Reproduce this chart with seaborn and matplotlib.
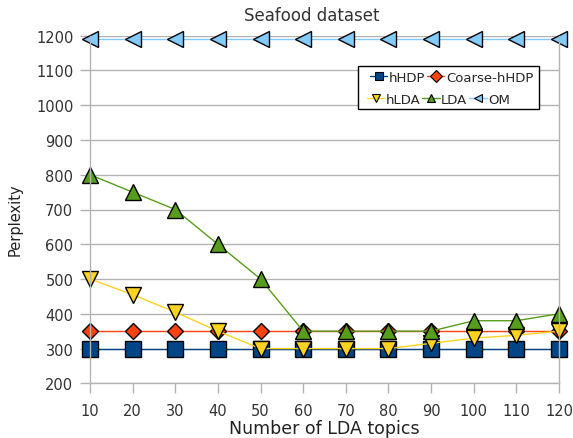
import matplotlib
matplotlib.use("Agg")
import matplotlib.pyplot as plt
import seaborn as sns
from matplotlib.lines import Line2D
from matplotlib.patches import Rectangle

topics = [10, 20, 30, 40, 50, 60, 70, 80, 90, 100, 110, 120]
hhdp = [300, 300, 300, 300, 300, 300, 300, 300, 300, 300, 300, 300]
coarse_hhdp = [350, 350, 350, 350, 350, 350, 350, 350, 350, 350, 350, 350]
hlda = [500, 455, 405, 350, 300, 300, 300, 300, 315, 330, 338, 350]
lda = [800, 750, 700, 600, 500, 350, 350, 350, 350, 380, 380, 400]
om = [1190, 1190, 1190, 1190, 1190, 1190, 1190, 1190, 1190, 1190, 1190, 1190]
series_names = ["hHDP", "Coarse-hHDP", "hLDA", "LDA", "OM"]

sns.set_theme(style="white")
plt.rcParams['font.family'] = ['DejaVu Sans']

fig = plt.figure(figsize=(5.73, 4.39), dpi=100)
L, R, T, B = 90, 559, 36.7, 384.3
W, H = R - L, B - T
ax = fig.add_axes([L/573, 1-B/439, W/573, H/439])

def ax_x(px):
    return (px - L) / W

def ax_y(py):
    return (B - py) / H

specs = [
    (hhdp, "#004586", "s", 11.5),
    (coarse_hhdp, "#ff420e", "D", 8.5),
    (hlda, "#ffd320", "v", 12),
    (lda, "#579d1c", "^", 12),
    (om, "#83caff", "<", 12),
]
handles = []
for (vals, col, mk, ms), name in zip(specs, series_names):
    sns.lineplot(x=topics, y=vals, ax=ax, color=col, marker=mk, markersize=ms,
                 markeredgecolor="black", markeredgewidth=1.0, linewidth=1.0,
                 clip_on=False, label=None)
    handles.append(Line2D([], [], color=col, marker=mk, markersize=6,
                          markeredgecolor="black", markeredgewidth=0.8,
                          linewidth=1.0, label=name))

ax.set_xlim(10, 120)
ax.set_ylim(200, 1200)
ax.set_xticks(topics)
ax.set_yticks(range(200, 1201, 100))
ax.yaxis.grid(True, color="#b3b3b3", linewidth=1.0)
ax.xaxis.grid(False)
for s in ["left", "right", "bottom", "top"]:
    ax.spines[s].set_color("#b3b3b3")
    ax.spines[s].set_linewidth(1.0)
ax.spines["top"].set_visible(False)
ax.tick_params(axis="both", which="both", direction="out", length=7,
               width=1.0, color="#b3b3b3", labelsize=10.5, labelcolor="#333333",
               left=True, bottom=True)
ax.tick_params(axis="x", pad=7)
ax.tick_params(axis="y", pad=5)
ax.set_axisbelow(True)

ax.set_xlabel("Number of LDA topics", fontsize=12.5, color="#222222", labelpad=1)
fig.text(15/573, 1-220/439, "Perplexity", rotation=90, ha="center", va="center",
         fontsize=10.5, color="#222222")
fig.text(312/573, 1-16/439, "Seafood dataset", ha="center", va="center",
         fontsize=12, color="#333333")

# legend frame
ax.add_patch(Rectangle((ax_x(358), ax_y(110)), ax_x(539) - ax_x(358),
                       ax_y(67) - ax_y(110), transform=ax.transAxes,
                       facecolor="white", edgecolor="black", linewidth=1.0,
                       zorder=5, clip_on=False))
common = dict(fontsize=9.5, frameon=False, handlelength=1.3, handletextpad=0.12,
              columnspacing=0.15, borderpad=0, borderaxespad=0, loc="center left")
leg1 = ax.legend(handles=[handles[0], handles[1]], ncol=2,
                 bbox_to_anchor=(ax_x(370), ax_y(78)), **common)
leg1.set_zorder(6)
ax.add_artist(leg1)
leg2 = ax.legend(handles=[handles[2], handles[3], handles[4]], ncol=3,
                 bbox_to_anchor=(ax_x(367), ax_y(100)), **common)
leg2.set_zorder(6)

fig.savefig("out.png", dpi=100)
